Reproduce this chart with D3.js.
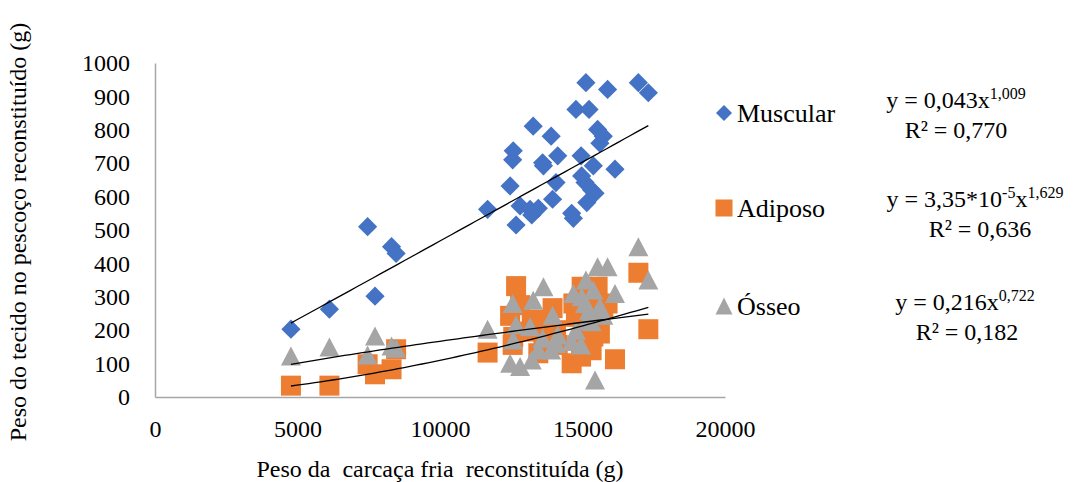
<!DOCTYPE html>
<html>
<head>
<meta charset="utf-8">
<script src="https://cdn.jsdelivr.net/npm/d3@7"></script>
<style>
	body { margin: 0; background: #fff; }
</style>
</head>
<body>
<div id="chart"></div>
<script>
// carcass weight (g), shared by the three tissues
var carcassWeight = [4770, 6120, 7460, 7720, 8300, 8460, 11670, 12460, 12550, 12570, 12670,
	12810, 13160, 13220, 13270, 13450, 13600, 13630, 13900, 13950, 14070, 14130, 14620,
	14680, 14770, 14950, 14970, 15090, 15120, 15150, 15230, 15320, 15380, 15440, 15530,
	15610, 15730, 15880, 16140, 16960, 17310];
var muscular = [203, 263, 510, 302, 450, 430, 562, 632, 710, 737, 515, 572, 562, 545, 811,
	565, 701, 692, 781, 592, 642, 722, 550, 535, 861, 722, 662, 642, 941, 582, 861, 620,
	692, 610, 801, 760, 781, 921, 682, 941, 911];
var adiposo = [34, 34, 98, 68, 83, 143, 133, 243, 156, 180, 332, 275, 196, 231, 205, 131,
	231, 156, 190, 266, 200, 156, 101, 280, 240, 121, 330, 181, 300, 266, 260, 140, 181,
	250, 330, 190, 266, 280, 113, 372, 203];
var osseo = [123, 150, 126, 183, 153, 146, 203, 101, 280, 171, 216, 91, 210, 111, 290, 141,
	176, 330, 141, 245, 160, 186, 166, 310, 200, 156, 300, 280, 350, 230, 260, 225, 320,
	51, 390, 270, 245, 390, 310, 450, 350];

var xTicks = [0, 5000, 10000, 15000, 20000];
var yTicks = [0, 100, 200, 300, 400, 500, 600, 700, 800, 900, 1000];

//excel style triangle: box of w x h centred on the point
function triangle(w, h) {
	return {
		draw: function (context) {
			context.moveTo(0, -h / 2);
			context.lineTo(w / 2, h / 2);
			context.lineTo(-w / 2, h / 2);
			context.closePath();
		}
	};
}

// power trendlines y = a * x^b as printed on the chart
var series = [
	{ name: 'Muscular', values: muscular, color: '#4472c4', shape: d3.symbolDiamond2, size: 235, legendSize: 162,
		a: 0.043, b: 1.009, eq: ['y = 0,043x', ['1,009']], r2: 'R² = 0,770' },
	{ name: 'Adiposo', values: adiposo, color: '#ed7d31', shape: d3.symbolSquare, size: 400, legendSize: 289,
		a: 3.35e-5, b: 1.629, eq: ['y = 3,35*10', ['-5'], 'x', ['1,629']], r2: 'R² = 0,636' },
	{ name: 'Ósseo', values: osseo, color: '#a5a5a5', shape: triangle(20, 19), legendShape: triangle(17, 17),
		a: 0.216, b: 0.722, eq: ['y = 0,216x', ['0,722']], r2: 'R² = 0,182' }
];

var FONT = '"Liberation Serif", "Times New Roman", serif';
var width = 1083, height = 482;
var margin = { left: 155, top: 63, right: 358, bottom: 85 };

var svg = d3.select('#chart')
	.append('svg')
	.attr('width', width)
	.attr('height', height);

var x = d3.scaleLinear().domain([0, 20000]).range([margin.left, width - margin.right]);
var y = d3.scaleLinear().domain([0, 1000]).range([height - margin.bottom, margin.top]);

//axes
var xAxis = svg.append('g')
	.attr('transform', 'translate(0,' + y(0) + ')')
	.call(d3.axisBottom(x).tickValues(xTicks).tickSize(0).tickPadding(23).tickFormat(d3.format('d')));
var yAxis = svg.append('g')
	.attr('transform', 'translate(' + x(0) + ',0)')
	.call(d3.axisLeft(y).tickValues(yTicks).tickSize(0).tickPadding(25).tickFormat(d3.format('d')));

[xAxis, yAxis].forEach(function (g) {
	g.attr('font-family', FONT).attr('font-size', 24);
	g.select('.domain').attr('stroke', '#a6a6a6').attr('stroke-width', 1.5);
	g.selectAll('text').attr('fill', '#000');
});

//points, one layer per tissue
series.forEach(function (s) {
	var sym = d3.symbol().type(s.shape).size(s.size || 1);
	svg.append('g')
		.selectAll('path')
		.data(carcassWeight)
		.enter()
		.append('path')
		.attr('d', sym)
		.attr('fill', s.color)
		.attr('transform', function (d, i) {
			return 'translate(' + x(d) + ',' + y(s.values[i]) + ')';
		});
});

//trendlines over the points
var xMin = d3.min(carcassWeight), xMax = d3.max(carcassWeight);
var line = d3.line()
	.x(function (d) { return x(d[0]); })
	.y(function (d) { return y(d[1]); });
series.forEach(function (s) {
	var pts = d3.range(0, 61).map(function (k) {
		var xv = xMin + (xMax - xMin) * k / 60;
		return [xv, s.a * Math.pow(xv, s.b)];
	});
	svg.append('path')
		.attr('d', line(pts))
		.attr('fill', 'none')
		.attr('stroke', '#000')
		.attr('stroke-width', 1.3);
});

//legend and equations
var legendY = [113, 208, 306];
var eqX = [956, 975, 965];
var eqY = [108, 207, 310];
var r2X = [956, 980, 967];
series.forEach(function (s, i) {
	var g = svg.append('g').attr('font-family', FONT);
	g.append('path')
		.attr('d', d3.symbol().type(s.legendShape || s.shape).size(s.legendSize || 1))
		.attr('fill', s.color)
		.attr('transform', 'translate(724,' + legendY[i] + ')');
	g.append('text')
		.attr('x', 737)
		.attr('y', legendY[i] + 9)
		.attr('font-size', 26)
		.text(s.name);

	var eq = g.append('text')
		.attr('x', eqX[i])
		.attr('y', eqY[i])
		.attr('text-anchor', 'middle')
		.attr('font-size', 24);
	var raised = false;
	s.eq.forEach(function (part) {
		if (Array.isArray(part)) {
			eq.append('tspan').attr('dy', raised ? 0 : -9).attr('font-size', 16).text(part[0]);
			raised = true;
		} else {
			eq.append('tspan').attr('dy', raised ? 9 : 0).text(part);
			raised = false;
		}
	});
	g.append('text')
		.attr('x', r2X[i])
		.attr('y', eqY[i] + 30)
		.attr('text-anchor', 'middle')
		.attr('font-size', 24)
		.text(s.r2);
});

//axis titles
svg.append('text')
	.attr('x', x(10000))
	.attr('y', 477)
	.attr('text-anchor', 'middle')
	.attr('font-family', FONT)
	.attr('font-size', 24)
	.style('white-space', 'pre')
	.text('Peso da  carcaça fria  reconstituída (g)');

svg.append('text')
	.attr('transform', 'translate(26,' + 232 + ') rotate(-90)')
	.attr('text-anchor', 'middle')
	.attr('font-family', FONT)
	.attr('font-size', 24)
	.text('Peso do tecido no pescoço reconstituído (g)');
</script>
</body>
</html>
